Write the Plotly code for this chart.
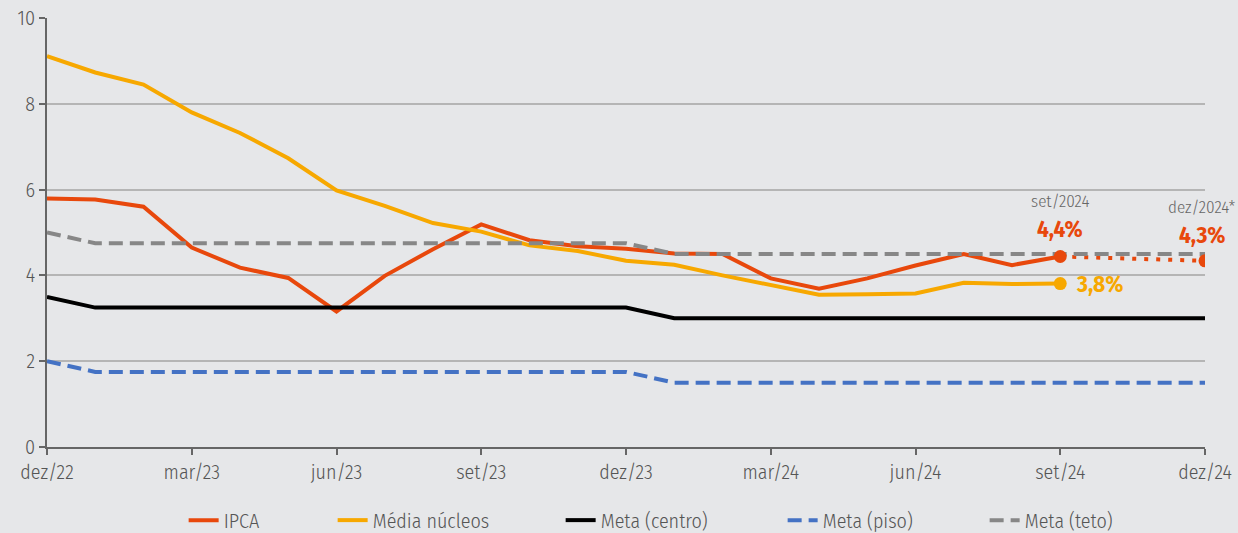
import plotly.graph_objects as go

# months from dez/22 (0) to dez/24 (24)
tick_pos = [0, 3, 6, 9, 12, 15, 18, 21, 24]
tick_labels = ["dez/22", "mar/23", "jun/23", "set/23", "dez/23", "mar/24", "jun/24", "set/24", "dez/24"]

months_obs = list(range(22))  # dez/22 .. set/24
ipca = [5.79, 5.77, 5.60, 4.65, 4.18, 3.94, 3.16, 3.99, 4.61, 5.19, 4.82, 4.68,
        4.62, 4.51, 4.50, 3.93, 3.69, 3.93, 4.23, 4.50, 4.24, 4.44]
nucleos = [9.11, 8.73, 8.45, 7.80, 7.32, 6.73, 5.98, 5.62, 5.22, 5.02, 4.70, 4.57,
           4.34, 4.25, 4.00, 3.78, 3.55, 3.56, 3.58, 3.83, 3.80, 3.81]

months_proj = [21, 24]
ipca_proj = [4.44, 4.34]

months_meta = list(range(25))
meta_centro = [3.5] + [3.25] * 12 + [3.0] * 12
meta_piso = [2.0] + [1.75] * 12 + [1.5] * 12
meta_teto = [5.0] + [4.75] * 12 + [4.5] * 12

RED = "#e8480c"
ORANGE = "#f7a800"
BLUE = "#4472c4"
GRAY = "#878787"
FONT = "Fira Sans Condensed, Roboto Condensed, sans-serif"

fig = go.Figure()

# same drawing order as the original (teto drawn last, on top)
fig.add_trace(go.Scatter(x=months_obs, y=ipca, mode="lines", name="IPCA", legendwidth=104,
                         line=dict(color=RED, width=4)))
fig.add_trace(go.Scatter(x=months_proj, y=ipca_proj, mode="lines", showlegend=False,
                         line=dict(color=RED, width=4, dash="4px,8px")))
fig.add_trace(go.Scatter(x=months_obs, y=nucleos, mode="lines", name="Média núcleos", legendwidth=183,
                         line=dict(color=ORANGE, width=4)))
fig.add_trace(go.Scatter(x=months_meta, y=meta_centro, mode="lines", name="Meta (centro)", legendwidth=177,
                         line=dict(color="black", width=4)))
fig.add_trace(go.Scatter(x=months_meta, y=meta_piso, mode="lines", name="Meta (piso)", legendwidth=157,
                         line=dict(color=BLUE, width=4, dash="14px,7px")))
fig.add_trace(go.Scatter(x=months_meta, y=meta_teto, mode="lines", name="Meta (teto)", legendwidth=95,
                         line=dict(color=GRAY, width=4, dash="14px,7px")))
# end markers
fig.add_trace(go.Scatter(x=[21, 24], y=[ipca[-1], ipca_proj[-1]], mode="markers", showlegend=False,
                         marker=dict(color=RED, size=13)))
fig.add_trace(go.Scatter(x=[21], y=[nucleos[-1]], mode="markers", showlegend=False,
                         marker=dict(color=ORANGE, size=13)))

fig.add_annotation(x=21, y=ipca[-1], text="set/2024", showarrow=False, yshift=55,
                   font=dict(size=17, color="#666666"))
fig.add_annotation(x=21, y=ipca[-1], text="<b>4,4%</b>", showarrow=False, yshift=28,
                   font=dict(size=23, color=RED, weight=600))
fig.add_annotation(x=24, y=ipca_proj[-1], text="dez/2024*", showarrow=False, yshift=53, xshift=-3,
                   font=dict(size=17, color="#666666"))
fig.add_annotation(x=24, y=ipca_proj[-1], text="<b>4,3%</b>", showarrow=False, yshift=26, xshift=-3,
                   font=dict(size=23, color=RED, weight=600))
fig.add_annotation(x=21, y=nucleos[-1], text="<b>3,8%</b>", showarrow=False, xshift=39,
                   font=dict(size=23, color=ORANGE, weight=600))

fig.update_layout(
    width=1238, height=533,
    paper_bgcolor="#e6e7e9", plot_bgcolor="#e6e7e9",
    margin=dict(l=47, r=33, t=18, b=86, autoexpand=False),
    font=dict(family=FONT, size=20, color="#555555", weight=300),
    legend=dict(orientation="h", x=0.118, xanchor="left", y=-0.125, yanchor="top",
                font=dict(size=20, color="#555555", weight=300), traceorder="normal",
                entrywidthmode="pixels"),
)
fig.update_xaxes(range=[0, 24], tickvals=tick_pos, ticktext=tick_labels,
                 showgrid=False, zeroline=False, showline=True, linecolor="#666666", linewidth=2,
                 ticks="outside", ticklen=6, tickcolor="#666666", tickwidth=2)
fig.update_yaxes(range=[0, 10], dtick=2, showgrid=True, gridcolor="#b5b5b5", gridwidth=1.5,
                 zeroline=False, showline=True, linecolor="#666666", linewidth=2,
                 ticks="outside", ticklen=6, tickcolor="#666666", tickwidth=2)

fig.write_html("out.html", config={"displayModeBar": False},
               post_script="document.body.style.margin='0';")
